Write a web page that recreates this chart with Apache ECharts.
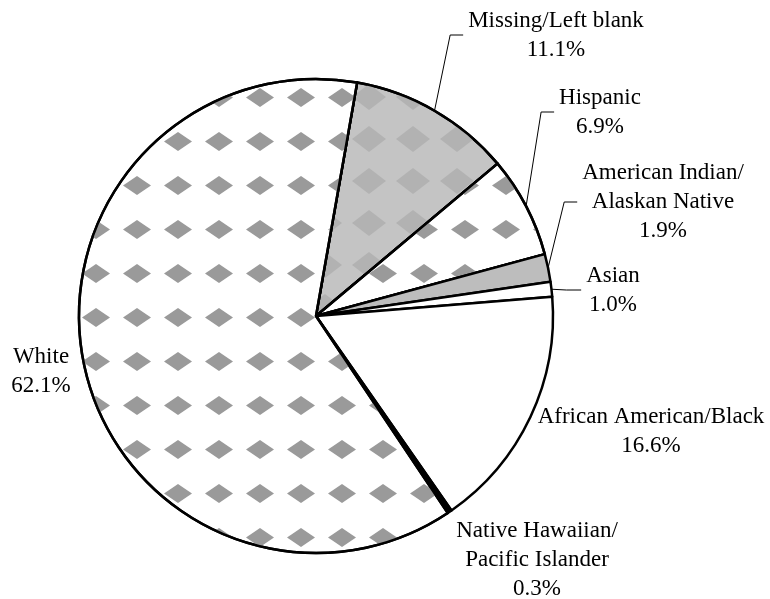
<!DOCTYPE html>
<html>
<head>
<meta charset="utf-8">
<script src="https://cdn.jsdelivr.net/npm/echarts@6/dist/echarts.min.js"></script>
<style>
  html, body { margin: 0; padding: 0; background: #fff; }
  #chart { width: 770px; height: 599px; }
</style>
</head>
<body>
<div id="chart"></div>
<script>
// slices, clockwise from the top
const categories = [
  "Missing/Left blank",
  "Hispanic",
  "American Indian/\nAlaskan Native",
  "Asian",
  "African American/Black",
  "Native Hawaiian/\nPacific Islander",
  "White"
];
const percents = [11.1, 6.9, 1.9, 1.0, 16.6, 0.3, 62.1];

// label block centres (label placement only)
const labelPos = [
  [556, 35],
  [600, 112],
  [663, 202],
  [613, 290],
  [651, 431],
  [537, 560],
  [41, 371]
];
const withLine = [true, true, true, true, false, false, false];

const blotches = {
  symbol: "diamond",
  symbolSize: 1,
  color: "#9a9a9a",
  dashArrayX: [28, 13],
  dashArrayY: [19, 25]
};
const fills = [
  { color: "#c4c4c4", decal: { symbol: "diamond", symbolSize: 1, color: "#b2b2b2", dashArrayX: [34, 10], dashArrayY: [26, 16] } },
  { color: "#ffffff", decal: blotches },
  { color: "#bdbdbd" },
  { color: "#ffffff" },
  { color: "#ffffff" },
  { color: "#000000" },
  { color: "#ffffff", decal: blotches }
];

const chart = echarts.init(document.getElementById("chart"));

const data = categories.map(function (name, i) {
  return {
    name: name,
    value: percents[i],
    itemStyle: fills[i],
    labelLine: { show: withLine[i] }
  };
});

chart.setOption({
  animation: false,
  series: [
    {
      type: "pie",
      center: [316, 316],
      radius: 237,
      startAngle: 80,
      clockwise: true,
      data: data,
      itemStyle: { borderColor: "#000", borderWidth: 2.5 },
      emphasis: { disabled: true },
      label: {
        show: true,
        position: "outside",
        overflow: "none",
        fontFamily: "Liberation Serif",
        fontSize: 23,
        lineHeight: 29,
        color: "#000",
        align: "center",
        formatter: function (p) {
          return p.name + "\n" + p.value.toFixed(1) + "%";
        }
      },
      labelLine: {
        show: true,
        lineStyle: { color: "#000", width: 1 }
      },
      labelLayout: function (params) {
        const i = params.dataIndex;
        const pos = labelPos[i];
        const res = { x: pos[0], y: pos[1], align: "center", verticalAlign: "middle" };
        if (withLine[i] && params.labelLinePoints) {
          const a = params.labelLinePoints[0];
          const endX = pos[0] - params.labelRect.width / 2 - 5;
          const endY = pos[1];
          const elbowX = i === 3 ? (a[0] + endX) / 2 : endX - 13;
          res.labelLinePoints = [a, [elbowX, endY], [endX, endY]];
        }
        return res;
      }
    }
  ]
});
</script>
</body>
</html>
